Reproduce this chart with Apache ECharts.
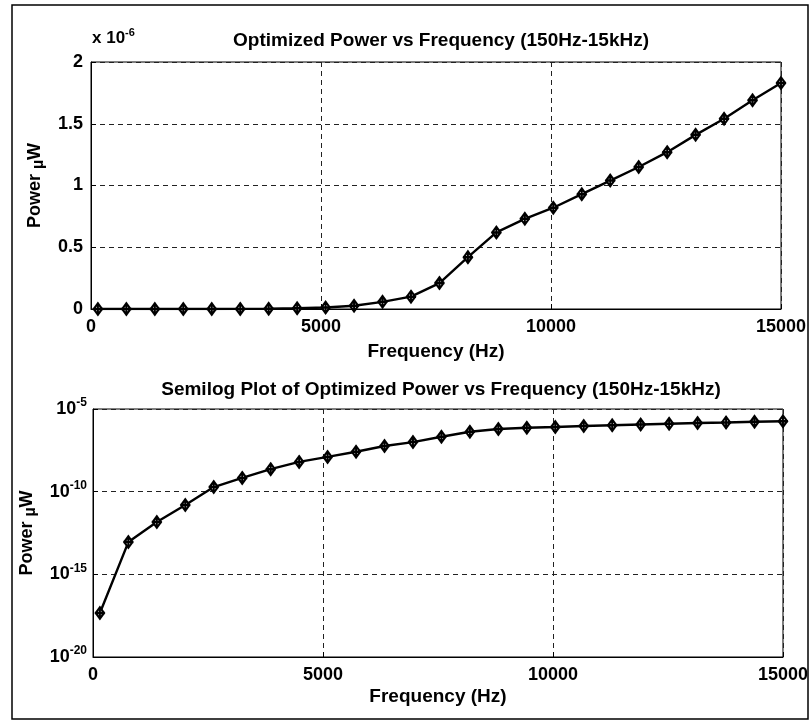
<!DOCTYPE html>
<html>
<head>
<meta charset="utf-8">
<script src="https://cdn.jsdelivr.net/npm/echarts@6/dist/echarts.min.js"></script>
<style>html,body{margin:0;padding:0;background:#fff}#c{width:811px;height:723px}</style>
</head>
<body>
<div id="c"></div>
<script>
// Frequency samples (Hz), 25 points from 150 Hz to 15 kHz
const freq = [150, 768.75, 1387.5, 2006.25, 2625, 3243.75, 3862.5, 4481.25, 5100, 5718.75, 6337.5, 6956.25, 7575, 8193.75, 8812.5, 9431.25, 10050, 10668.75, 11287.5, 11906.25, 12525, 13143.75, 13762.5, 14381.25, 15000];
// Optimized power values
const power = [4.6e-18, 8.9e-14, 1.45e-12, 1.55e-11, 1.9e-10, 6.8e-10, 2.3e-9, 6.3e-9, 1.26e-8, 2.6e-8, 5.8e-8, 1.0e-7, 2.1e-7, 4.2e-7, 6.2e-7, 7.3e-7, 8.2e-7, 9.3e-7, 1.04e-6, 1.15e-6, 1.27e-6, 1.41e-6, 1.54e-6, 1.69e-6, 1.83e-6];
const xTicks = [0, 5000, 10000, 15000];
const linTicks = [0, 0.5e-6, 1e-6, 1.5e-6, 2e-6];
const logTicks = [1e-20, 1e-15, 1e-10, 1e-5];

const title1 = 'Optimized Power vs Frequency (150Hz-15kHz)';
const title2 = 'Semilog Plot of Optimized Power vs Frequency (150Hz-15kHz)';
const xName = 'Frequency (Hz)';

const FONT = 'Liberation Sans, Arial, sans-serif';
const pts = freq.map((f, i) => [f, power[i]]);

const chart = echarts.init(document.getElementById('c'), null, {renderer: 'canvas'});

const dash = {color: '#222', width: 1, type: [5, 4]};
const lblStyle = {color: '#000', fontFamily: FONT, fontWeight: 'bold', fontSize: 18};

function xAxisCfg(gi, gap) {
  return {
    gridIndex: gi, type: 'value', min: 0, max: 15000, interval: 5000,
    name: xName, nameLocation: 'middle', nameGap: gap,
    nameTextStyle: {color: '#000', fontFamily: FONT, fontWeight: 'bold', fontSize: 19},
    axisLine: {show: true, onZero: false, lineStyle: {color: '#000', width: 1}},
    axisTick: {show: true, inside: true, length: 5, lineStyle: {color: '#000'}},
    axisLabel: Object.assign({margin: 9, formatter: v => String(v)}, lblStyle),
    splitLine: {show: true, lineStyle: dash}
  };
}

const yNameText = '{a|Power }{m|\u00b5}{a|W}';
const yNameStyle = {
  color: '#000', fontFamily: FONT, fontWeight: 'bold', fontSize: 18,
  rich: {
    a: {color: '#000', fontFamily: FONT, fontWeight: 'bold', fontSize: 18},
    m: {color: '#000', fontFamily: FONT, fontWeight: 'bold', fontSize: 16, padding: [7, 0, 0, 0]}
  }
};

const markerPath = 'path://M0,-7 L5,0 L0,7 L-5,0 Z M0,-8 L0,8 M-6,0 L6,0';
const seriesStyle = {
  type: 'line', symbol: markerPath, symbolSize: [10, 13],
  lineStyle: {color: '#000', width: 2.4},
  itemStyle: {color: '#fff', borderColor: '#000', borderWidth: 2.2},
  animation: false, z: 5
};

chart.setOption({
  backgroundColor: '#fff',
  animation: false,
  title: [
    {text: title1, left: 436, top: 26, textAlign: 'center',
     textStyle: {color: '#000', fontFamily: FONT, fontWeight: 'bold', fontSize: 19}},
    {text: title2, left: 436, top: 375, textAlign: 'center',
     textStyle: {color: '#000', fontFamily: FONT, fontWeight: 'bold', fontSize: 19}}
  ],
  grid: [
    {left: 91, top: 62, width: 690, height: 247, show: true, borderColor: '#000', borderWidth: 1, backgroundColor: '#fff'},
    {left: 93, top: 409, width: 690, height: 248, show: true, borderColor: '#000', borderWidth: 1, backgroundColor: '#fff'}
  ],
  xAxis: [xAxisCfg(0, 33), xAxisCfg(1, 30)],
  yAxis: [
    {
      gridIndex: 0, type: 'value', min: 0, max: 2e-6, interval: 0.5e-6,
      name: yNameText, nameLocation: 'middle', nameGap: 44,
      nameTextStyle: yNameStyle,
      axisLine: {show: true, lineStyle: {color: '#000', width: 1}},
      axisTick: {show: true, inside: true, length: 5, lineStyle: {color: '#000'}},
      axisLabel: Object.assign({margin: 8, formatter: v => String(Math.round(v * 1e7) / 10)}, lblStyle),
      splitLine: {show: true, lineStyle: dash}
    },
    {
      gridIndex: 1, type: 'log', logBase: 10, min: 1e-20, max: 1e-5, interval: 5,
      name: yNameText, nameLocation: 'middle', nameGap: 54,
      nameTextStyle: yNameStyle,
      axisLine: {show: true, lineStyle: {color: '#000', width: 1}},
      axisTick: {show: true, inside: true, length: 5, lineStyle: {color: '#000'}},
      minorTick: {show: false},
      axisLabel: {
        margin: 6,
        formatter: v => '{b|10}{s|' + Math.round(Math.log10(v)) + '}',
        rich: {
          b: {color: '#000', fontFamily: FONT, fontWeight: 'bold', fontSize: 18},
          s: {color: '#000', fontFamily: FONT, fontWeight: 'bold', fontSize: 12, padding: [0, 0, 12, 0]}
        }
      },
      splitLine: {show: true, lineStyle: dash}
    }
  ],
  series: [
    Object.assign({xAxisIndex: 0, yAxisIndex: 0, data: pts}, seriesStyle),
    Object.assign({xAxisIndex: 1, yAxisIndex: 1, data: pts}, seriesStyle)
  ],
  graphic: [
    {type: 'rect', shape: {x: 12, y: 5, width: 796, height: 714},
     style: {fill: 'none', stroke: '#000', lineWidth: 1.5}, silent: true, z: 100},
    {type: 'text', left: 92, top: 27,
     style: {text: '{a|x 10}{s|-6}', rich: {
       a: {fill: '#000', fontFamily: FONT, fontWeight: 'bold', fontSize: 17},
       s: {fill: '#000', fontFamily: FONT, fontWeight: 'bold', fontSize: 11, padding: [0, 0, 11, 0]}
     }}}
  ]
});
</script>
</body>
</html>
